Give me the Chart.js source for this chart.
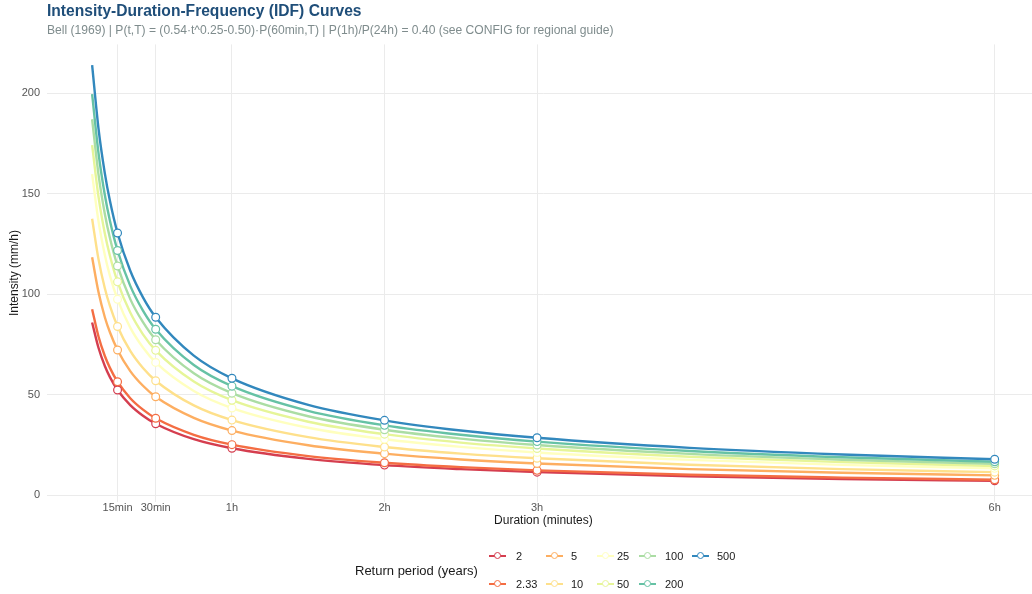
<!DOCTYPE html>
<html>
<head>
<meta charset="utf-8">
<title>IDF Curves</title>
<script src="https://cdn.jsdelivr.net/npm/chart.js@4/dist/chart.umd.min.js"></script>
<style>
  html, body { margin: 0; padding: 0; background: #fff; overflow: hidden; }
  #wrap { position: relative; width: 1032px; height: 594px; overflow: hidden;
          font-family: "Liberation Sans", Arial, sans-serif; }
  #idf { position: absolute; left: 0; top: 0; }
  .title { position: absolute; left: 47px; top: 2px; font-size: 15.6px; line-height: 17px;
           font-weight: bold; color: #1f4e79; white-space: nowrap; }
  .subtitle { position: absolute; left: 47px; top: 22px; font-size: 12.1px; line-height: 16px;
              color: #7f8c8d; white-space: nowrap; }
  .legend-title { position: absolute; left: 355px; top: 563px; font-size: 13px; line-height: 16px;
                  color: #1a1a1a; white-space: nowrap; }
  .lg-key { position: absolute; width: 17px; height: 16px; }
  .lg-line { position: absolute; left: 0; right: 0; top: 7px; height: 2px; }
  .lg-dot { position: absolute; left: 4.5px; top: 4px; width: 5.4px; height: 5.4px;
            border-radius: 50%; background: #fff; border: 1.3px solid; }
  .lg-label { position: absolute; font-size: 11px; line-height: 16px; height: 16px;
              color: #1a1a1a; white-space: nowrap; }
</style>
</head>
<body>
<div id="wrap">
  <canvas id="idf" width="1045" height="594"></canvas>
  <div class="title">Intensity-Duration-Frequency (IDF) Curves</div>
  <div class="subtitle">Bell (1969) | P(t,T) = (0.54·t^0.25-0.50)·P(60min,T) | P(1h)/P(24h) = 0.40 (see CONFIG for regional guide)</div>
  <div class="legend-title">Return period (years)</div>
  <div id="legend"></div>
</div>
<script>
// Durations (minutes) at which each curve is sampled
const durations = [5, 7.5, 10, 12, 15, 20, 25, 30, 45, 60, 90, 120, 150, 180, 240, 300, 360];

// Rainfall intensity (mm/h) for each return period
const i2    = [86.0, 73.4, 64.3, 58.8, 52.4, 44.9, 39.6, 35.6, 27.9, 23.4, 18.1, 15.0, 13.0, 11.5, 9.5, 8.1, 7.2];
const i2_33 = [92.6, 79.0, 69.3, 63.4, 56.5, 48.3, 42.6, 38.3, 30.1, 25.2, 19.5, 16.2, 14.0, 12.4, 10.2, 8.8, 7.7];
const i5    = [118.4, 101.1, 88.6, 81.1, 72.3, 61.8, 54.5, 49.0, 38.5, 32.2, 24.9, 20.7, 17.8, 15.8, 13.0, 11.2, 9.9];
const i10   = [137.6, 117.5, 103.0, 94.2, 84.0, 71.8, 63.3, 57.0, 44.7, 37.4, 28.9, 24.0, 20.7, 18.4, 15.2, 13.0, 11.5];
const i25   = [159.8, 136.4, 119.6, 109.3, 97.5, 83.4, 73.5, 66.1, 51.9, 43.4, 33.6, 27.9, 24.1, 21.3, 17.6, 15.1, 13.4];
const i50   = [174.2, 148.6, 130.3, 119.2, 106.2, 90.9, 80.1, 72.1, 56.6, 47.3, 36.6, 30.4, 26.2, 23.3, 19.2, 16.5, 14.6];
const i100  = [187.1, 159.7, 140.0, 128.0, 114.1, 97.6, 86.1, 77.4, 60.7, 50.8, 39.3, 32.6, 28.2, 25.0, 20.6, 17.7, 15.7];
const i200  = [199.6, 170.4, 149.4, 136.6, 121.8, 104.2, 91.9, 82.6, 64.8, 54.3, 42.0, 34.8, 30.1, 26.7, 22.0, 18.9, 16.7];
const i500  = [214.0, 182.6, 160.2, 146.5, 130.5, 111.7, 98.5, 88.6, 69.5, 58.2, 45.0, 37.3, 32.2, 28.6, 23.6, 20.3, 17.9];

const returnPeriods = ['2', '2.33', '5', '10', '25', '50', '100', '200', '500'];
const seriesValues  = [i2, i2_33, i5, i10, i25, i50, i100, i200, i500];
const seriesColors  = ['#d53e4f', '#f46d43', '#fdae61', '#fee08b', '#ffffbf',
                       '#e6f598', '#abdda4', '#66c2a5', '#3288bd'];

// Standard durations that carry a marker and an axis tick
const markerDurations = [15, 30, 60, 120, 180, 360];
const xTickValues = [15, 30, 60, 120, 180, 360];
const xTickLabels = ['15min', '30min', '1h', '2h', '3h', '6h'];
const yTickValues = [0, 50, 100, 150, 200];

const FONT = '"Liberation Sans", Arial, sans-serif';

// Curves first (lower series underneath), then all markers above every curve
const lineSets = returnPeriods.map((rp, i) => ({
  label: rp,
  data: durations.map((d, k) => ({ x: d, y: seriesValues[i][k] })),
  borderColor: seriesColors[i],
  borderWidth: 2.4,
  pointRadius: 0,
  fill: false,
  cubicInterpolationMode: 'monotone',
  order: 100 - i
}));
const markerSets = returnPeriods.map((rp, i) => ({
  label: rp + ' markers',
  data: durations.map((d, k) => ({ x: d, y: seriesValues[i][k] }))
                 .filter(p => markerDurations.includes(p.x)),
  showLine: false,
  pointRadius: 3.9,
  pointBorderWidth: 1.2,
  pointBackgroundColor: '#ffffff',
  pointBorderColor: seriesColors[i],
  order: 50 - i
}));

new Chart(document.getElementById('idf'), {
  type: 'line',
  data: { datasets: lineSets.concat(markerSets) },
  options: {
    responsive: false,
    animation: false,
    events: [],
    layout: { padding: { left: 0, right: 0.6, top: 44.4, bottom: 65.9 } },
    plugins: {
      legend: { display: false },
      tooltip: { enabled: false },
      title: { display: false }
    },
    scales: {
      x: {
        type: 'linear',
        min: -12.75,
        max: 377.75,
        afterBuildTicks: s => { s.ticks = xTickValues.map(v => ({ value: v })); },
        afterFit: s => { s.height = 26.5; },
        ticks: {
          callback: v => xTickLabels[xTickValues.indexOf(v)],
          font: { size: 11, family: FONT },
          color: '#555555',
          padding: 0,
          maxRotation: 0,
          autoSkip: false
        },
        grid: { color: '#ebebeb', lineWidth: 1, drawTicks: false },
        border: { display: false },
        title: {
          display: true,
          text: 'Duration (minutes)',
          font: { size: 12, family: FONT },
          color: '#1a1a1a',
          padding: 0
        }
      },
      y: {
        type: 'linear',
        min: -3.15,
        max: 224.35,
        afterBuildTicks: s => { s.ticks = yTickValues.map(v => ({ value: v })); },
        afterFit: s => { s.width = 47; },
        ticks: {
          font: { size: 11, family: FONT },
          color: '#555555',
          padding: 7
        },
        grid: { color: '#ebebeb', lineWidth: 1, drawTicks: false },
        border: { display: false },
        title: {
          display: true,
          text: 'Intensity (mm/h)',
          font: { size: 12, family: FONT },
          color: '#1a1a1a',
          padding: { top: 7, bottom: 0 }
        }
      }
    }
  }
});

// Legend: two rows, filled column by column
const legendKeyLeft   = [489, 546, 597, 639, 692];
const legendLabelLeft = [516, 571, 617, 665, 717];
const legendRowCenter = [556, 584];
const legend = document.getElementById('legend');
returnPeriods.forEach((rp, i) => {
  const col = Math.floor(i / 2), row = i % 2;
  const top = legendRowCenter[row] - 8;
  const key = document.createElement('div');
  key.className = 'lg-key';
  key.style.left = legendKeyLeft[col] + 'px';
  key.style.top = top + 'px';
  const line = document.createElement('div');
  line.className = 'lg-line';
  line.style.background = seriesColors[i];
  const dot = document.createElement('div');
  dot.className = 'lg-dot';
  dot.style.borderColor = seriesColors[i];
  key.appendChild(line);
  key.appendChild(dot);
  const lab = document.createElement('div');
  lab.className = 'lg-label';
  lab.style.left = legendLabelLeft[col] + 'px';
  lab.style.top = top + 'px';
  lab.textContent = rp;
  legend.appendChild(key);
  legend.appendChild(lab);
});
</script>
</body>
</html>
